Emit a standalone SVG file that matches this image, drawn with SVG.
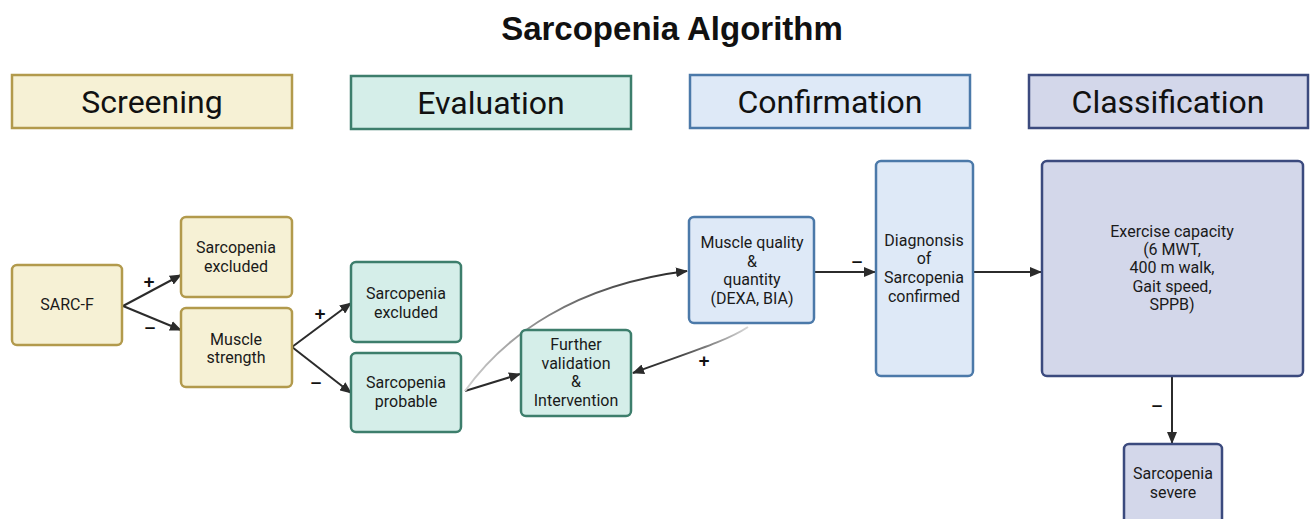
<svg xmlns="http://www.w3.org/2000/svg" width="1311" height="519" viewBox="0 0 1311 519">
<style>
.t{font-family:Roboto,"Liberation Sans",sans-serif;font-size:16px;fill:#1a1a1a;text-anchor:middle}
.h{font-family:Roboto,"Liberation Sans",sans-serif;font-size:32px;fill:#111;text-anchor:middle}
.s{font-family:"Liberation Sans",Arial,sans-serif;font-size:19px;font-weight:bold;fill:#111;text-anchor:middle}
.y{fill:#f6f1d5;stroke:#b29a4c;stroke-width:2.5}
.g{fill:#d5eee9;stroke:#3d7e6c;stroke-width:2.5}
.b{fill:#dee9f7;stroke:#4b79a9;stroke-width:2.5}
.p{fill:#d3d7ea;stroke:#3b4a7e;stroke-width:2.5}
.c{fill:none;stroke:#2b2b2b;stroke-width:2}
</style>
<defs>
<marker id="ah" viewBox="0 0 12 10" refX="11" refY="5" markerWidth="12" markerHeight="10" markerUnits="userSpaceOnUse" orient="auto">
<path d="M0,0 L12,5 L0,10 z" fill="#2b2b2b"/>
</marker>
<linearGradient id="g1" gradientUnits="userSpaceOnUse" x1="465" y1="390" x2="686" y2="271">
<stop offset="0" stop-color="#d0d0d0"/><stop offset="0.5" stop-color="#777"/><stop offset="1" stop-color="#222"/>
</linearGradient>
<linearGradient id="g2" gradientUnits="userSpaceOnUse" x1="748" y1="327" x2="633" y2="372">
<stop offset="0" stop-color="#d8d8d8"/><stop offset="0.6" stop-color="#444"/><stop offset="1" stop-color="#222"/>
</linearGradient>
</defs>
<rect width="1311" height="519" fill="#ffffff"/>
<text x="672" y="40" font-family="Liberation Sans,Arial,sans-serif" font-size="33" font-weight="bold" fill="#111" text-anchor="middle">Sarcopenia Algorithm</text>

<g id="hdr-screening"><rect class="y" x="12" y="75" width="280" height="53"/><text class="h" x="152" y="113">Screening</text></g>
<g id="hdr-evaluation"><rect class="g" x="351" y="76" width="280" height="53"/><text class="h" x="491" y="114">Evaluation</text></g>
<g id="hdr-confirmation"><rect class="b" x="690" y="75" width="280" height="53"/><text class="h" x="830" y="113">Confirmation</text></g>
<g id="hdr-classification"><rect class="p" x="1029" y="75" width="279" height="53"/><text class="h" x="1168" y="113">Classification</text></g>

<g id="connectors">
<path class="c" d="M123,306 L181,275" marker-end="url(#ah)"/>
<path class="c" d="M123,306 L181,330" marker-end="url(#ah)"/>
<path class="c" d="M292,347 L351,303" marker-end="url(#ah)"/>
<path class="c" d="M292,347 L351,393" marker-end="url(#ah)"/>
<path class="c" d="M465,391 L520,374" marker-end="url(#ah)"/>
<path d="M465,391 C505,335 575,285 687,271" fill="none" stroke="url(#g1)" stroke-width="2" marker-end="url(#ah)"/>
<path d="M748,327 C725,342 690,352 633,373" fill="none" stroke="url(#g2)" stroke-width="2" marker-end="url(#ah)"/>
<path class="c" d="M815,272 L875,272" marker-end="url(#ah)"/>
<path class="c" d="M974,272 L1041,272" marker-end="url(#ah)"/>
<path class="c" d="M1172,377 L1172,443" marker-end="url(#ah)"/>
<text class="s" x="149" y="288">+</text>
<text class="s" x="150" y="333">–</text>
<text class="s" x="320" y="320">+</text>
<text class="s" x="316" y="388">–</text>
<text class="s" x="704" y="367">+</text>
<text class="s" x="857" y="267">–</text>
<text class="s" x="1157" y="411">–</text>
</g>

<g id="n-sarcf"><rect class="y" x="12" y="265" width="110" height="80" rx="5"/><text class="t" x="67" y="310">SARC-F</text></g>
<g id="n-excl1"><rect class="y" x="181" y="217" width="111" height="80" rx="5"/><text class="t" x="236" y="253">Sarcopenia</text><text class="t" x="236" y="272">excluded</text></g>
<g id="n-strength"><rect class="y" x="181" y="308" width="111" height="79" rx="5"/><text class="t" x="236" y="345">Muscle</text><text class="t" x="236" y="363">strength</text></g>
<g id="n-excl2"><rect class="g" x="351" y="262" width="110" height="80" rx="5"/><text class="t" x="406" y="299">Sarcopenia</text><text class="t" x="406" y="318">excluded</text></g>
<g id="n-probable"><rect class="g" x="351" y="353" width="110" height="79" rx="5"/><text class="t" x="406" y="388">Sarcopenia</text><text class="t" x="406" y="407">probable</text></g>
<g id="n-further"><rect class="g" x="521" y="330" width="110" height="86" rx="5"/><text class="t" x="576" y="350">Further</text><text class="t" x="576" y="369">validation</text><text class="t" x="576" y="387">&amp;</text><text class="t" x="576" y="406">Intervention</text></g>
<g id="n-quality"><rect class="b" x="689" y="217" width="125" height="106" rx="5"/><text class="t" x="752" y="248">Muscle quality</text><text class="t" x="752" y="267">&amp;</text><text class="t" x="752" y="285">quantity</text><text class="t" x="752" y="304">(DEXA, BIA)</text></g>
<g id="n-diagnosis"><rect class="b" x="876" y="161" width="97" height="215" rx="5"/><text class="t" x="924" y="246">Diagnonsis</text><text class="t" x="924" y="264">of</text><text class="t" x="924" y="283">Sarcopenia</text><text class="t" x="924" y="302">confirmed</text></g>
<g id="n-exercise"><rect class="p" x="1042" y="161" width="261" height="215" rx="5"/><text class="t" x="1172" y="237">Exercise capacity</text><text class="t" x="1172" y="255">(6 MWT,</text><text class="t" x="1172" y="273">400 m walk,</text><text class="t" x="1172" y="292">Gait speed,</text><text class="t" x="1172" y="310">SPPB)</text></g>
<g id="n-severe"><rect class="p" x="1124" y="444" width="98" height="90" rx="5"/><text class="t" x="1173" y="479">Sarcopenia</text><text class="t" x="1173" y="498">severe</text></g>
</svg>
